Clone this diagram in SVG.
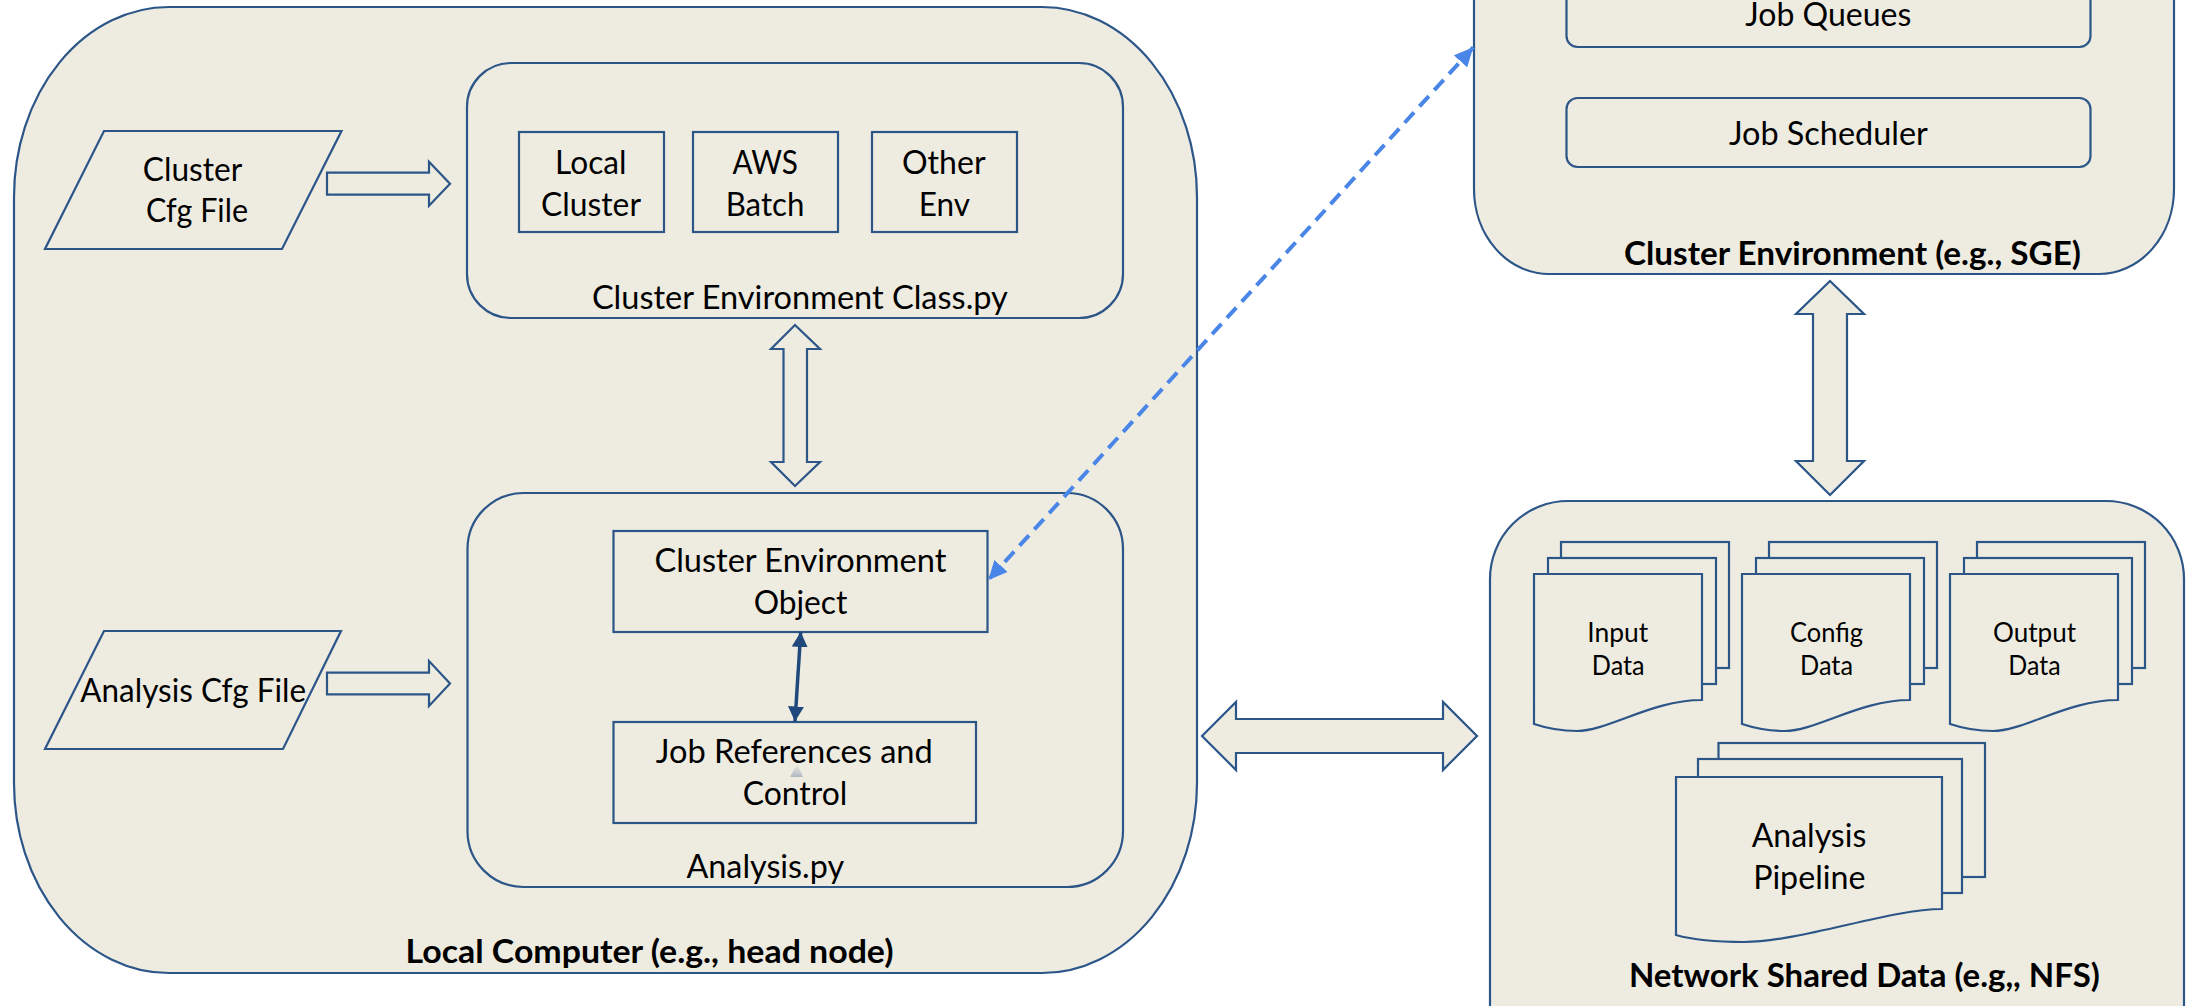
<svg xmlns="http://www.w3.org/2000/svg" width="2187" height="1006" viewBox="0 0 2187 1006">
  <style>
    .panel { fill: #EEECE1; stroke: #2C5588; stroke-width: 2.2; }
    .box { fill: #EEECE1; stroke: #2C5588; stroke-width: 2.2; }
    .fat { fill: #EEECE1; stroke: #2C5588; stroke-width: 2.2; stroke-linejoin: miter; }
    .t { font-family: Lato, "Open Sans", "Liberation Sans", sans-serif; font-size: 33px; fill: #000; text-anchor: middle; }
    .s { font-size: 27px; }
    .b { font-weight: bold; }
    .dash { fill: none; stroke: #4A86E8; stroke-width: 4; stroke-dasharray: 14 8; }
    .link { fill: none; stroke: #1F497D; stroke-width: 3.5; }
  </style>
  <defs>
    <marker id="blueHead" markerUnits="userSpaceOnUse" markerWidth="20" markerHeight="18" refX="19" refY="9" orient="auto-start-reverse" viewBox="0 0 20 18">
      <path d="M0,0 L19,9 L0,18 Z" fill="#4A86E8"/>
    </marker>
    <marker id="darkHead" markerUnits="userSpaceOnUse" markerWidth="16" markerHeight="16" refX="15" refY="8" orient="auto-start-reverse" viewBox="0 0 16 16">
      <path d="M0,0 L15,8 L0,16 Z" fill="#1F497D"/>
    </marker>
    <linearGradient id="ghost" x1="0" y1="0" x2="0" y2="1">
      <stop offset="0" stop-color="#9AA6B8" stop-opacity="0"/>
      <stop offset="1" stop-color="#9AA6B8" stop-opacity="0.75"/>
    </linearGradient>
  </defs>

  <rect width="2187" height="1006" fill="#FFFFFF"/>

  <!-- Local computer panel -->
  <g id="local-computer">
    <rect class="panel" x="14" y="7" width="1183" height="966" rx="155" ry="190"/>
    <text class="t b" x="649.5" y="963" textLength="488" lengthAdjust="spacingAndGlyphs">Local Computer (e.g., head node)</text>
  </g>

  <!-- Cluster environment panel (top right, runs off the top edge) -->
  <g id="cluster-environment">
    <rect class="panel" x="1474" y="-200" width="700" height="474" rx="75" ry="85"/>
    <text class="t b" x="1852.5" y="265" textLength="457" lengthAdjust="spacingAndGlyphs">Cluster Environment (e.g., SGE)</text>
  </g>
  <g id="job-queues">
    <rect class="box" x="1566.5" y="-30" width="524" height="77" rx="11"/>
    <text class="t" x="1828.3" y="25.5" textLength="166" lengthAdjust="spacingAndGlyphs">Job Queues</text>
  </g>
  <g id="job-scheduler">
    <rect class="box" x="1566.5" y="98" width="524" height="69" rx="11"/>
    <text class="t" x="1828.4" y="145" textLength="199" lengthAdjust="spacingAndGlyphs">Job Scheduler</text>
  </g>

  <!-- Network shared data panel (bottom right, runs off the bottom edge) -->
  <g id="network-shared-data">
    <rect class="panel" x="1490" y="501" width="694" height="600" rx="78" ry="78"/>
    <text class="t b" x="1864.4" y="986.7" textLength="471" lengthAdjust="spacingAndGlyphs">Network Shared Data (e.g,, NFS)</text>
  </g>

  <!-- Cluster config input -->
  <g id="cluster-cfg-file">
    <polygon class="box" points="104,131 341.5,131 282,249 45,249"/>
    <text class="t" x="192.6" y="181" textLength="99.5" lengthAdjust="spacingAndGlyphs">Cluster</text>
    <text class="t" x="197" y="222" textLength="102" lengthAdjust="spacingAndGlyphs">Cfg File</text>
  </g>

  <!-- Analysis config input -->
  <g id="analysis-cfg-file">
    <polygon class="box" points="104,631 341,631 283,749 45,749"/>
    <text class="t" x="193.2" y="701.7" textLength="225.7" lengthAdjust="spacingAndGlyphs">Analysis Cfg File</text>
  </g>

  <!-- Cluster environment class module -->
  <g id="cluster-environment-class">
    <rect class="box" x="467" y="63" width="656" height="255" rx="44"/>
    <text class="t" x="799.9" y="308.7" textLength="416" lengthAdjust="spacingAndGlyphs">Cluster Environment Class.py</text>
  </g>
  <g id="local-cluster">
    <rect class="box" x="519" y="132" width="145" height="100"/>
    <text class="t" x="590.8" y="174" textLength="71.4" lengthAdjust="spacingAndGlyphs">Local</text>
    <text class="t" x="591" y="215.7" textLength="100" lengthAdjust="spacingAndGlyphs">Cluster</text>
  </g>
  <g id="aws-batch">
    <rect class="box" x="693" y="132" width="145" height="100"/>
    <text class="t" x="765.2" y="174" textLength="65.6" lengthAdjust="spacingAndGlyphs">AWS</text>
    <text class="t" x="765" y="215.7" textLength="78.6" lengthAdjust="spacingAndGlyphs">Batch</text>
  </g>
  <g id="other-env">
    <rect class="box" x="872" y="132" width="145" height="100"/>
    <text class="t" x="943.8" y="174" textLength="83.5" lengthAdjust="spacingAndGlyphs">Other</text>
    <text class="t" x="944.5" y="215.7" textLength="51.3" lengthAdjust="spacingAndGlyphs">Env</text>
  </g>

  <!-- Analysis module -->
  <g id="analysis-py">
    <rect class="box" x="467.5" y="493" width="655.5" height="394" rx="56"/>
    <text class="t" x="765.3" y="878.3" textLength="157.5" lengthAdjust="spacingAndGlyphs">Analysis.py</text>
  </g>
  <g id="cluster-environment-object">
    <rect class="box" x="613.5" y="531" width="374" height="101"/>
    <text class="t" x="800.4" y="571.7" textLength="292" lengthAdjust="spacingAndGlyphs">Cluster Environment</text>
    <text class="t" x="800.5" y="614" textLength="93.7" lengthAdjust="spacingAndGlyphs">Object</text>
  </g>
  <g id="job-references">
    <rect class="box" x="613.5" y="722" width="362.5" height="101"/>
    <text class="t" x="794.3" y="763.3" textLength="277" lengthAdjust="spacingAndGlyphs">Job References and</text>
    <text class="t" x="795" y="805" textLength="104.7" lengthAdjust="spacingAndGlyphs">Control</text>
    <path d="M797,764 L803,777 L790,777 Z" fill="url(#ghost)"/>
  </g>

  <!-- Shared data documents -->
  <g id="input-data">
    <rect class="box" x="1561" y="542" width="168" height="126"/>
    <rect class="box" x="1548" y="558" width="168" height="126"/>
    <path class="box" d="M1534,574 H1702 V700 C1652,700 1608,731 1577,731 C1558,731 1543,727 1534,724 Z"/>
    <text class="t s" x="1617.8" y="641.7" textLength="61" lengthAdjust="spacingAndGlyphs">Input</text>
    <text class="t s" x="1618.2" y="675" textLength="52.8" lengthAdjust="spacingAndGlyphs">Data</text>
  </g>
  <g id="config-data">
    <rect class="box" x="1769" y="542" width="168" height="126"/>
    <rect class="box" x="1756" y="558" width="168" height="126"/>
    <path class="box" d="M1742,574 H1910 V700 C1860,700 1816,731 1785,731 C1766,731 1751,727 1742,724 Z"/>
    <text class="t s" x="1826.5" y="641.7" textLength="73" lengthAdjust="spacingAndGlyphs">Config</text>
    <text class="t s" x="1826.5" y="675" textLength="52.9" lengthAdjust="spacingAndGlyphs">Data</text>
  </g>
  <g id="output-data">
    <rect class="box" x="1977" y="542" width="168" height="126"/>
    <rect class="box" x="1964" y="558" width="168" height="126"/>
    <path class="box" d="M1950,574 H2118 V700 C2068,700 2024,731 1993,731 C1974,731 1959,727 1950,724 Z"/>
    <text class="t s" x="2034.5" y="641.7" textLength="83" lengthAdjust="spacingAndGlyphs">Output</text>
    <text class="t s" x="2034.5" y="675" textLength="52.3" lengthAdjust="spacingAndGlyphs">Data</text>
  </g>
  <g id="analysis-pipeline">
    <rect class="box" x="1718.5" y="743" width="266.5" height="134"/>
    <rect class="box" x="1698" y="759" width="264" height="134"/>
    <path class="box" d="M1676,777 H1942 V909 C1890,909 1800,942 1744,942 C1715,942 1690,939 1676,935 Z"/>
    <text class="t" x="1809" y="846.7" textLength="114.5" lengthAdjust="spacingAndGlyphs">Analysis</text>
    <text class="t" x="1809.3" y="888.5" textLength="112.3" lengthAdjust="spacingAndGlyphs">Pipeline</text>
  </g>

  <!-- Connectors -->
  <g id="connectors">
    <polygon class="fat" points="327,172.7 429,172.7 429,161.7 450,183.7 429,205.7 429,194.7 327,194.7"/>
    <polygon class="fat" points="327,672.7 429,672.7 429,661 450,683.5 429,706 429,694.3 327,694.3"/>
    <polygon class="fat" points="795,325 820,349 807,349 807,462 820,462 795,486 771,462 783.5,462 783.5,349 771,349"/>
    <polygon class="fat" points="1830,281 1864,314 1847,314 1847,461 1864,461 1830,495 1796,461 1813,461 1813,314 1796,314"/>
    <polygon class="fat" points="1202,736 1236,702 1236,719 1443,719 1443,702 1477,736 1443,770 1443,753 1236,753 1236,770"/>
    <line class="link" x1="800.7" y1="632" x2="795" y2="721.5" marker-start="url(#darkHead)" marker-end="url(#darkHead)"/>
    <line class="dash" x1="1473.3" y1="47.3" x2="988.3" y2="580" marker-start="url(#blueHead)" marker-end="url(#blueHead)"/>
  </g>
</svg>
